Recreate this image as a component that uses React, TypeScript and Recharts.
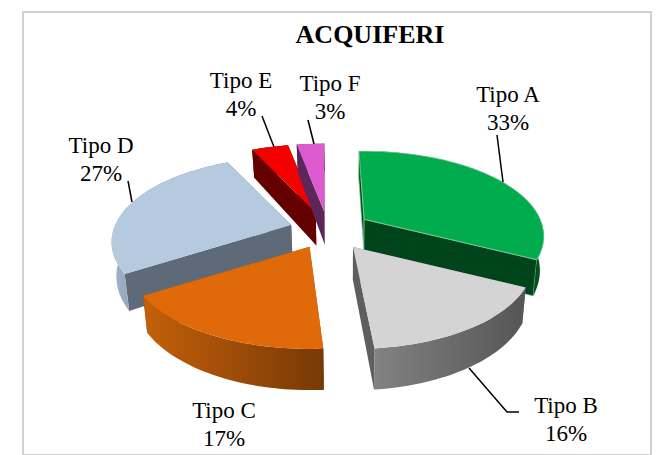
import { PieChart, Pie } from "recharts";

const names = ["Tipo A", "Tipo B", "Tipo C", "Tipo D", "Tipo E", "Tipo F"];
const shares = [33, 16, 17, 27, 4, 3];
const explosion = [0.27, 0.21, 0.19, 0.23, 0.27, 0.27];
const twist = [2, 2, 0, 0, 0, 0]; // degrees the slice is turned back by the perspective

const topColors = ["#00AC4E", "#D4D4D4", "#E0690A", "#B5C9DF", "#F40000", "#DD5AD2"];
const wallColors = ["#00441B", "#5E5E5E", "#9A4C07", "#5E6A78", "#650000", "#5C2758"];
const rimFrom = ["#0A6A30", "#828282", "#C4600A", "#A0B3CA", "#650000", "#5C2758"];
const rimTo = ["#03501F", "#555555", "#773905", "#5E6A78", "#650000", "#5C2758"];

// painted in two passes so the front slices sit over the back ones
const backSlices = ["Tipo A", "Tipo D", "Tipo E", "Tipo F"];
const frontSlices = ["Tipo B", "Tipo C"];

const pieData = names.map((name, i) => ({ name, value: shares[i], idx: i }));

// label placement, as [center x, first baseline, leader line points]
const labelLayout: Record<string, { x: number; y: number; line: number[][] }> = {
  "Tipo A": { x: 508, y: 102, line: [[497, 135], [503, 182]] },
  "Tipo B": { x: 566, y: 413, line: [[469, 368], [507, 412], [519, 412]] },
  "Tipo C": { x: 224, y: 418, line: [] },
  "Tipo D": { x: 101, y: 153, line: [[128, 181], [132, 202]] },
  "Tipo E": { x: 241, y: 88, line: [[262, 116], [274, 147]] },
  "Tipo F": { x: 330, y: 91, line: [[308, 120], [314, 144]] },
};

const W = 656;
const H = 455;
const CX = 328;
const CY = 230;
const RADIUS = 176;
const SQUASH = 0.464; // tilt of the pie
const PERSP = 0.2;
const DEPTH = 33;
const VANISH_X = 350;
const CONVERGE = 0.02;
const FONT = "'Liberation Serif', serif";

const rad = (d: number) => (d * Math.PI) / 180;

// degrees clockwise from top -> projected point relative to slice centre
function project(theta: number, r: number, R: number) {
  const u = r * Math.sin(rad(theta));
  const v = -r * Math.cos(rad(theta));
  const s = 1 / (1 - PERSP * v);
  return { x: R * u * s, y: R * SQUASH * v * s, s };
}

function Slice3D(props: any, allowed: string[]) {
  const { startAngle, endAngle, cx, cy, outerRadius, payload } = props;
  const name = payload?.name ?? props.name;
  if (!allowed.includes(name)) return <g />;
  const i = names.indexOf(name);
  const a0 = 90 - startAngle - twist[i];
  const a1 = 90 - endAngle - twist[i];
  const off = project((a0 + a1) / 2, 1, outerRadius);
  const ox = cx + off.x * explosion[i];
  const oy = cy + off.y * explosion[i];

  const top = (t: number, r = 1) => {
    const p = project(t, r, outerRadius);
    return { x: ox + p.x, y: oy + p.y, s: p.s };
  };
  const drop = (p: { x: number; y: number; s: number }) => ({
    x: p.x + (VANISH_X - p.x) * CONVERGE,
    y: p.y + DEPTH * p.s,
    s: p.s,
  });
  const d = (pts: { x: number; y: number }[]) =>
    "M" + pts.map((p) => `${p.x.toFixed(1)},${p.y.toFixed(1)}`).join("L") + "Z";

  const arc: { x: number; y: number; s: number }[] = [];
  const steps = Math.max(4, Math.ceil((a1 - a0) / 1.5));
  for (let k = 0; k <= steps; k++) arc.push(top(a0 + ((a1 - a0) * k) / steps));

  const apex = { x: ox, y: oy, s: 1 };
  const first = arc[0];
  const last = arc[arc.length - 1];
  const gradId = `rim-${i}`;
  const edge = name === "Tipo A" ? "#8FD3A0" : "none";

  return (
    <g>
      <defs>
        <linearGradient id={gradId} x1="0" y1="0" x2="1" y2="0">
          <stop offset="0%" stopColor={rimFrom[i]} />
          <stop offset="100%" stopColor={rimTo[i]} />
        </linearGradient>
      </defs>
      <path d={d([apex, first, drop(first), drop(apex)])} fill={wallColors[i]} stroke={edge} strokeWidth={0.7} />
      <path d={d([apex, last, drop(last), drop(apex)])} fill={wallColors[i]} stroke={edge} strokeWidth={0.7} />
      <path d={d([...arc, ...arc.map(drop).reverse()])} fill={`url(#${gradId})`} />
      <path d={d([apex, ...arc])} fill={topColors[i]} stroke={edge} strokeWidth={0.7} />
    </g>
  );
}

function SliceLabel(props: any) {
  const { name, value } = props;
  const pos = labelLayout[name];
  if (!pos) return <g />;
  return (
    <g>
      {pos.line.length > 0 && (
        <polyline
          points={pos.line.map((p) => p.join(",")).join(" ")}
          fill="none"
          stroke="#000"
          strokeWidth={1.5}
        />
      )}
      <text x={pos.x} y={pos.y} textAnchor="middle" fontFamily={FONT} fontSize={23} fill="#000">
        {name}
      </text>
      <text x={pos.x} y={pos.y + 28} textAnchor="middle" fontFamily={FONT} fontSize={23} fill="#000">
        {value}%
      </text>
    </g>
  );
}

export default function App() {
  return (
    <div style={{ position: "absolute", left: 0, top: 0, width: W, height: H, background: "#fff", overflow: "hidden" }}>
      <div
        style={{
          position: "absolute",
          left: 22,
          top: 11,
          width: 626,
          height: 441,
          border: "2px solid #D0D0D0",
          boxSizing: "content-box",
        }}
      />
      <PieChart width={W} height={H} margin={{ top: 0, right: 0, bottom: 0, left: 0 }} style={{ position: "absolute", left: 0, top: 0 }}>
        <text x={370} y={43} textAnchor="middle" fontFamily={FONT} fontSize={26} fontWeight={700} fill="#000">
          ACQUIFERI
        </text>
        <Pie
          data={pieData}
          dataKey="value"
          nameKey="name"
          cx={CX}
          cy={CY}
          outerRadius={RADIUS}
          startAngle={90}
          endAngle={-270}
          paddingAngle={0}
          stroke="none"
          isAnimationActive={false}
          shape={(p: any) => Slice3D(p, backSlices)}
          labelLine={false}
          label={SliceLabel}
        />
        <Pie
          data={pieData}
          dataKey="value"
          nameKey="name"
          cx={CX}
          cy={CY}
          outerRadius={RADIUS}
          startAngle={90}
          endAngle={-270}
          paddingAngle={0}
          stroke="none"
          isAnimationActive={false}
          shape={(p: any) => Slice3D(p, frontSlices)}
          labelLine={false}
          label={false}
        />
      </PieChart>
    </div>
  );
}
